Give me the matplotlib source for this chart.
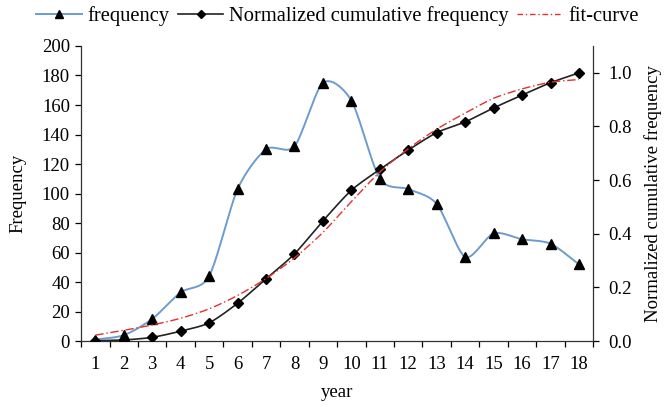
import numpy as np
import matplotlib
matplotlib.use("Agg")
import matplotlib.pyplot as plt
from matplotlib.ticker import MultipleLocator, FixedLocator
from matplotlib.lines import Line2D

plt.rcParams['font.family'] = ['Liberation Serif', 'DejaVu Serif']

years = list(range(1, 19))
frequency = [1, 4, 15, 33, 44, 103, 130, 132, 175, 163, 110, 103, 93, 57, 73, 69, 66, 52]
cum_freq = [0.001, 0.004, 0.014, 0.037, 0.068, 0.141, 0.232, 0.325, 0.448, 0.562,
            0.640, 0.712, 0.777, 0.817, 0.869, 0.917, 0.963, 1.000]
fit_curve = [0.022, 0.040, 0.060, 0.085, 0.120, 0.170, 0.233, 0.310, 0.405, 0.520,
             0.630, 0.717, 0.790, 0.850, 0.905, 0.940, 0.965, 0.975]


def smooth(x, y, n=20, tension=0.8):
    """Render a line through its points with Catmull-Rom style smoothing."""
    x = np.asarray(x, float)
    y = np.asarray(y, float)
    px = np.concatenate([[2 * x[0] - x[1]], x, [2 * x[-1] - x[-2]]])
    py = np.concatenate([[2 * y[0] - y[1]], y, [2 * y[-1] - y[-2]]])
    xs, ys = [], []
    t = np.linspace(0, 1, n, endpoint=False)
    h00 = 2 * t**3 - 3 * t**2 + 1
    h10 = t**3 - 2 * t**2 + t
    h01 = -2 * t**3 + 3 * t**2
    h11 = t**3 - t**2
    for i in range(1, len(px) - 2):
        p0, p1, p2, p3 = [np.array([px[j], py[j]]) for j in range(i - 1, i + 3)]
        m1 = (p2 - p0) / 2 * tension
        m2 = (p3 - p1) / 2 * tension
        pts = (np.outer(h00, p1) + np.outer(h10, m1) + np.outer(h01, p2) + np.outer(h11, m2))
        xs.extend(pts[:, 0])
        ys.extend(pts[:, 1])
    xs.append(x[-1])
    ys.append(y[-1])
    return np.array(xs), np.array(ys)


fig = plt.figure(figsize=(6.65, 4.07), dpi=100)
ax = fig.add_axes([0.122, 0.162, 0.770, 0.725])
ax2 = ax.twinx()

blue = '#6e9bcf'
red = '#e03030'
fs = 13.5

sx, sy = smooth(years, frequency)
ax.plot(sx, sy, color=blue, lw=1.4, zorder=2)
ax.plot(years, frequency, ls='none', marker='^', ms=7, color='black', zorder=3)

cx, cy = smooth(years, cum_freq)
ax2.plot(cx, cy, color='#222222', lw=1.2, zorder=2)
ax2.plot(years, cum_freq, ls='none', marker='D', ms=4.8, color='black', zorder=3)
fx, fy = smooth(years, fit_curve)
ax2.plot(fx, fy, color=red, lw=1.0, ls=(0, (6, 2, 1, 2)), zorder=4)

ax.set_xlim(0.5, 18.5)
ax.set_ylim(0, 200)
ax2.set_ylim(0, 1.1)
ax.xaxis.set_major_locator(FixedLocator(years))
ax.set_xticklabels([str(y) for y in years])
ax.xaxis.set_minor_locator(FixedLocator(np.arange(0.5, 19, 1)))
ax.tick_params(axis='x', which='major', length=0, labelsize=fs, pad=11)
ax.tick_params(axis='x', which='minor', length=4, direction='out', width=0.9)
ax.yaxis.set_major_locator(MultipleLocator(20))
ax.tick_params(axis='y', labelsize=fs, length=4, width=0.9, pad=4)
ax2.yaxis.set_major_locator(FixedLocator([0, 0.2, 0.4, 0.6, 0.8, 1.0]))
ax2.set_yticklabels(['0.0', '0.2', '0.4', '0.6', '0.8', '1.0'])
ax2.tick_params(axis='y', labelsize=fs, length=4, width=0.9, pad=7)

for a in (ax, ax2):
    a.spines['top'].set_visible(False)
    for s in ('left', 'right', 'bottom'):
        a.spines[s].set_linewidth(0.9)
        a.spines[s].set_color('#333333')
ax.spines['right'].set_visible(False)
ax2.spines['left'].set_visible(False)
ax2.spines['bottom'].set_visible(False)

ax.set_xlabel('year', fontsize=fs, labelpad=8)
ax.set_ylabel('Frequency', fontsize=fs, labelpad=11)
ax2.set_ylabel('Normalized cumulative frequency', fontsize=fs, labelpad=9)

handles = [
    Line2D([], [], color=blue, lw=1.4, marker='^', ms=6, mfc='black', mec='black'),
    Line2D([], [], color='#222222', lw=1.2, marker='D', ms=4.5, mfc='black', mec='black'),
    Line2D([], [], color=red, lw=1.0, ls=(0, (4, 2, 1, 2))),
]
fig.legend(handles, ['frequency', 'Normalized cumulative frequency', 'fit-curve'],
           loc='upper center', bbox_to_anchor=(0.508, 1.03), ncol=3, frameon=False,
           fontsize=14.8, handlelength=2.2, handletextpad=0.3, columnspacing=0.4)

fig.savefig('out.png', dpi=100)
